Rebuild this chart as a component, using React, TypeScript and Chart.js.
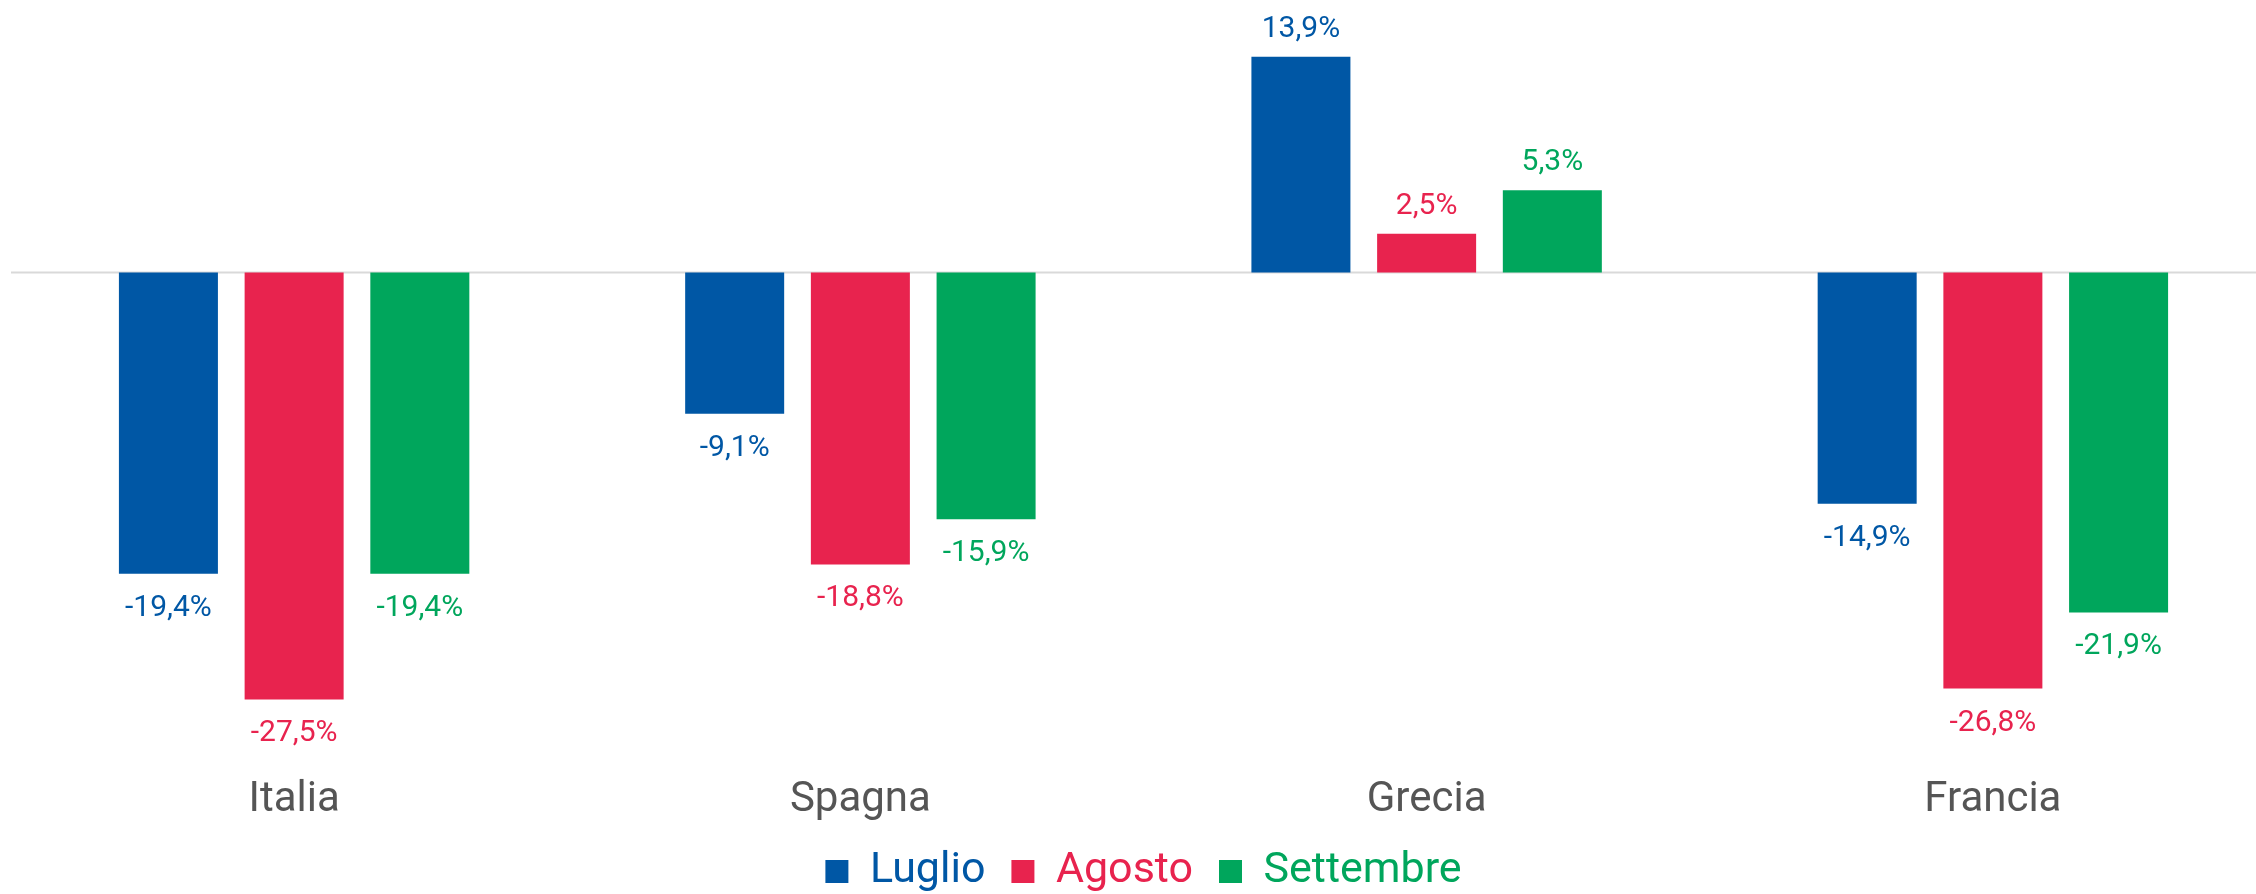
import React, { useEffect, useRef } from "react";
import { Chart, registerables } from "chart.js";

Chart.register(...registerables);

const categories = ["Italia", "Spagna", "Grecia", "Francia"];
const seriesNames = ["Luglio", "Agosto", "Settembre"];
const luglio = [-19.4, -9.1, 13.9, -14.9];
const agosto = [-27.5, -18.8, 2.5, -26.8];
const settembre = [-19.4, -15.9, 5.3, -21.9];
const seriesColors = ["#0057A5", "#E8234E", "#00A65C"];

const fmt = (v: number) => v.toFixed(1).replace(".", ",") + "%";

const zeroLinePlugin = {
  id: "zeroLine",
  beforeDatasetsDraw(chart: any) {
    const y = chart.scales.y.getPixelForValue(0);
    const ctx = chart.ctx;
    ctx.save();
    ctx.strokeStyle = "#d9d9d9";
    ctx.lineWidth = 2;
    ctx.beginPath();
    ctx.moveTo(chart.chartArea.left, y);
    ctx.lineTo(chart.width, y);
    ctx.stroke();
    ctx.restore();
  },
};

const valueLabelPlugin = {
  id: "valueLabels",
  afterDatasetsDraw(chart: any) {
    const ctx = chart.ctx;
    ctx.save();
    ctx.font = "30px Roboto";
    ctx.textAlign = "center";
    ctx.textBaseline = "alphabetic";
    chart.data.datasets.forEach((ds: any, di: number) => {
      const meta = chart.getDatasetMeta(di);
      meta.data.forEach((bar: any, i: number) => {
        const v = ds.data[i];
        const y = v >= 0 ? bar.y - 20 : bar.y + 42;
        ctx.fillStyle = ds.backgroundColor;
        ctx.fillText(fmt(v), bar.x, y);
      });
    });
    ctx.restore();
  },
};

export default function App() {
  const ref = useRef<HTMLCanvasElement | null>(null);
  useEffect(() => {
    if (!ref.current) return;
    Chart.defaults.font.family = "Roboto";
    const values = [luglio, agosto, settembre];
    const chart = new Chart(ref.current, {
      type: "bar",
      data: {
        labels: categories,
        datasets: seriesNames.map((name, i) => ({
          label: name,
          data: values[i],
          backgroundColor: seriesColors[i],
          borderWidth: 0,
          categoryPercentage: 0.666,
          barPercentage: 0.7876,
        })),
      },
      options: {
        responsive: false,
        animation: false,
        devicePixelRatio: 1,
        layout: { padding: { left: 11, right: 12, top: 1, bottom: 0 } },
        scales: {
          x: {
            grid: { display: false, drawTicks: false },
            border: { display: false },
            ticks: {
              color: "#555555",
              padding: 0,
              font: { size: 42, lineHeight: "47px" },
              maxRotation: 0,
              autoSkip: false,
            },
          },
          y: {
            display: false,
            min: -32.5,
            max: 17.5,
          },
        },
        plugins: {
          legend: {
            position: "bottom",
            labels: {
              boxWidth: 23,
              boxHeight: 23,
              padding: 26,
              font: { size: 43 },
              generateLabels: (c: any) =>
                c.data.datasets.map((ds: any, i: number) => ({
                  text: ds.label,
                  fillStyle: ds.backgroundColor,
                  strokeStyle: ds.backgroundColor,
                  lineWidth: 0,
                  fontColor: ds.backgroundColor,
                  hidden: false,
                  datasetIndex: i,
                })),
            },
          },
          tooltip: { enabled: false },
        },
      },
      plugins: [zeroLinePlugin, valueLabelPlugin],
    });
    return () => chart.destroy();
  }, []);

  return (
    <div
      style={{
        position: "fixed",
        left: 0,
        top: 0,
        width: 2256,
        height: 894,
        overflow: "hidden",
        background: "#ffffff",
      }}
    >
      <canvas ref={ref} width={2288} height={903} style={{ display: "block" }} />
    </div>
  );
}
